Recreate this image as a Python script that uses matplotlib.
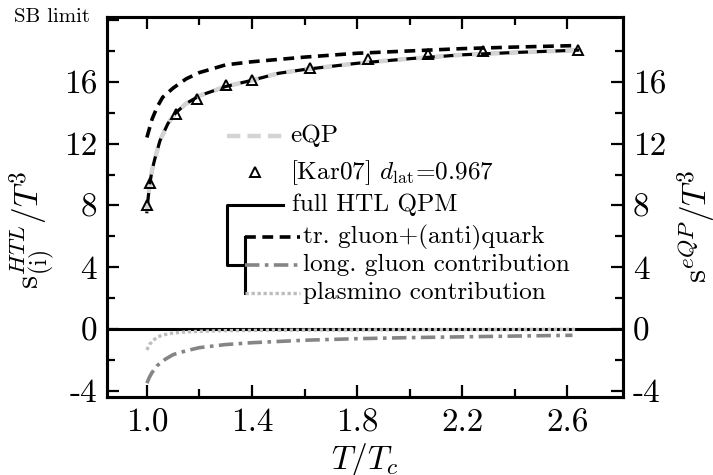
import numpy as np
import matplotlib
matplotlib.use('Agg')
import matplotlib.pyplot as plt

plt.rcParams['font.family'] = 'serif'
plt.rcParams['font.serif'] = ['cmr10']
plt.rcParams['mathtext.fontset'] = 'cm'
plt.rcParams['axes.unicode_minus'] = False

# curves
t_full = [1.0, 1.005, 1.01, 1.02, 1.03, 1.05, 1.08, 1.11, 1.15, 1.2, 1.3, 1.4, 1.5, 1.6, 1.8, 2.0, 2.2, 2.4, 2.64]
s_full = [7.6, 8.5, 9.3, 10.3, 11.0, 12.2, 13.3, 14.0, 14.6, 15.1, 15.7, 16.1, 16.55, 16.8, 17.2, 17.5, 17.75, 17.9, 18.05]
t_eqp = t_full
s_eqp = [7.6, 8.5, 9.3, 10.3, 11.0, 12.2, 13.3, 14.0, 14.6, 15.1, 15.7, 16.1, 16.55, 16.8, 17.2, 17.5, 17.75, 17.9, 18.05]

t_tr = [1.0, 1.01, 1.02, 1.04, 1.06, 1.1, 1.15, 1.2, 1.3, 1.4, 1.5, 1.6, 1.8, 2.0, 2.2, 2.4, 2.64]
s_tr = [12.4, 13.0, 13.6, 14.4, 15.0, 15.6, 16.2, 16.6, 17.1, 17.3, 17.45, 17.6, 17.85, 18.0, 18.15, 18.25, 18.35]

t_long = [1.0, 1.01, 1.02, 1.04, 1.07, 1.1, 1.15, 1.2, 1.3, 1.4, 1.6, 1.8, 2.0, 2.2, 2.4, 2.62]
s_long = [-3.5, -3.1, -2.8, -2.35, -1.95, -1.65, -1.4, -1.2, -1.0, -0.88, -0.72, -0.62, -0.55, -0.5, -0.45, -0.4]

t_pl = [1.0, 1.01, 1.02, 1.04, 1.07, 1.1, 1.15, 1.2, 1.3, 1.5, 1.8, 2.2, 2.64]
s_pl = [-1.35, -1.0, -0.8, -0.5, -0.35, -0.25, -0.18, -0.14, -0.1, -0.07, -0.05, -0.03, -0.02]

# lattice data [Kar07]
t_lat = [1.0, 1.01, 1.11, 1.19, 1.30, 1.40, 1.62, 1.84, 2.07, 2.28, 2.64]
s_lat = [8.0, 9.45, 13.9, 14.9, 15.8, 16.1, 16.9, 17.5, 17.8, 18.0, 18.05]

sb_limit = 20.0
yticks = [-4, 0, 4, 8, 12, 16]
xticks = [1.0, 1.4, 1.8, 2.2, 2.6]

fig = plt.figure(figsize=(7.13, 4.75), dpi=100)
ax = fig.add_axes([0.150, 0.164, 0.724, 0.800])

ax.axhline(0, color='k', lw=2.2, zorder=2)
ax.plot(t_full, s_full, color='k', lw=2.3, zorder=3)
ax.plot(t_eqp, s_eqp, color='#d4d4d4', lw=3.2, dashes=(2.0, 2.2), zorder=4)
ax.plot(t_tr, s_tr, color='k', lw=2.6, dashes=(3, 1.8), zorder=3)
ax.plot(t_long, s_long, color='#858585', lw=2.6, dashes=(4, 1.5, 1, 1.5), zorder=3)
ax.plot(t_pl, s_pl, color='#bdbdbd', lw=2.4, dashes=(1, 0.8), zorder=3)
ax.plot(t_lat, s_lat, ls='none', marker='^', ms=7, mfc='none', mec='k', mew=1.4, zorder=5)

ax.set_xlim(0.848, 2.813)
ax.set_ylim(-4.40, 20.19)

ax.set_xticks(xticks)
ax.set_xticklabels(['%.1f' % x for x in xticks])
ax.set_xticks([1.2, 1.6, 2.0, 2.4], minor=True)
ax.set_yticks(yticks + [sb_limit])
ax.set_yticklabels([str(y) for y in yticks] + [''])
ax.set_yticks([-2, 2, 6, 10, 14, 18], minor=True)
ax.text(-0.033, sb_limit + 0.2, 'SB limit', fontsize=15, ha='right', va='center',
        transform=ax.get_yaxis_transform())

for s in ax.spines.values():
    s.set_linewidth(2.2)
ax.tick_params(which='both', direction='in', top=True, width=1.6, labelsize=24)
ax.tick_params(which='major', length=8.5)
ax.tick_params(which='minor', length=5.5)
ax.tick_params(axis='x', pad=8)
ax.tick_params(axis='y', pad=7)

ax2 = ax.twinx()
ax2.set_ylim(ax.get_ylim())
ax2.set_yticks(yticks)
ax2.set_yticklabels([str(y) for y in yticks])
ax2.set_yticks([-2, 2, 6, 10, 14, 18], minor=True)
ax2.tick_params(which='both', direction='in', width=1.6, labelsize=24, pad=7)
ax2.tick_params(which='major', length=8.5)
ax2.tick_params(which='minor', length=5.5)
for s in ax2.spines.values():
    s.set_linewidth(2.2)

ax.set_ylabel(r'$\mathrm{s}^{HTL}_{(\mathrm{i})}/T^3$', fontsize=24)
ax.yaxis.set_label_coords(-0.097, 0.44)
ax2.set_ylabel(r'$\mathrm{s}^{eQP}/T^3$', fontsize=24, rotation=90)
ax2.yaxis.set_label_coords(1.10, 0.45)
ax.set_xlabel(r'$T/T_c$', fontsize=24)
ax.xaxis.set_label_coords(0.5, -0.115)

# hand-made legend
tr = ax.transAxes
fs = 18.2
ax.plot([0.233, 0.341], [0.687, 0.687], color='#d4d4d4', lw=3.2, dashes=(3, 1.6), transform=tr)
ax.text(0.355, 0.687, 'eQP', fontsize=fs, va='center', transform=tr)
ax.plot([0.287], [0.592], ls='none', marker='^', ms=7, mfc='none', mec='k', mew=1.4, transform=tr)
ax.text(0.355, 0.592, r'[Kar07] $d_{\mathrm{lat}}$=0.967', fontsize=fs, va='center', transform=tr)
ax.plot([0.341, 0.233, 0.233, 0.267], [0.505, 0.505, 0.347, 0.347], color='k', lw=2.2, transform=tr)
ax.text(0.358, 0.505, 'full HTL QPM', fontsize=fs, va='center', transform=tr)
ax.plot([0.267, 0.267], [0.421, 0.274], color='k', lw=2.2, transform=tr)
ax.plot([0.267, 0.374], [0.421, 0.421], color='k', lw=2.6, dashes=(3, 1.8), transform=tr)
ax.plot([0.267, 0.374], [0.347, 0.347], color='#858585', lw=2.6, dashes=(4, 1.5, 1, 1.5), transform=tr)
ax.plot([0.267, 0.374], [0.274, 0.274], color='#bdbdbd', lw=2.4, dashes=(1, 0.8), transform=tr)
ax.text(0.380, 0.421, 'tr. gluon+(anti)quark', fontsize=fs, va='center', transform=tr)
ax.text(0.380, 0.347, 'long. gluon contribution', fontsize=fs, va='center', transform=tr)
ax.text(0.380, 0.274, 'plasmino contribution', fontsize=fs, va='center', transform=tr)

fig.savefig('out.png', dpi=100)
